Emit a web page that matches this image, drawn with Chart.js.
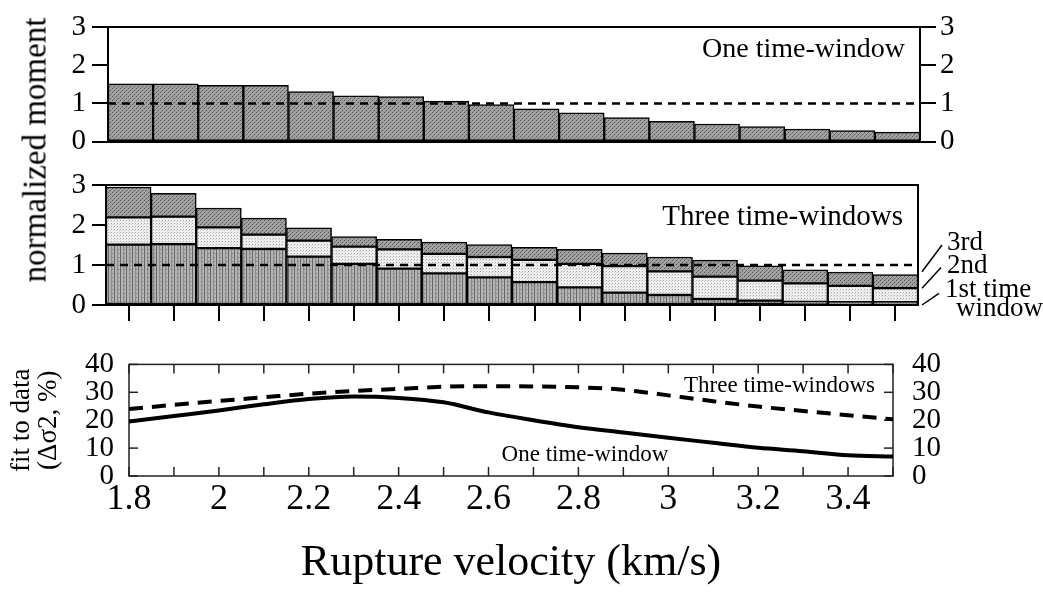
<!DOCTYPE html>
<html>
<head>
<meta charset="utf-8">
<script src="https://cdn.jsdelivr.net/npm/chart.js@4.4.1/dist/chart.umd.min.js"></script>
<style>
    body { margin: 0; background: #fff; }
    #page { position: relative; width: 1043px; height: 594px; overflow: hidden; font-family: "Liberation Serif", "Times New Roman", serif; }
    .panel { position: absolute; left: 0; width: 1043px; }
    #moment-title {
        position: absolute; left: 35px; top: 150px;
        transform: translate(-50%, -50%) rotate(-90deg);
        font-size: 33px; white-space: nowrap; color: #000;
    }
</style>
</head>
<body>
<div id="page">
    <div class="panel" style="top:0;height:165px"><canvas id="top-chart"></canvas></div>
    <div class="panel" style="top:160px;height:170px"><canvas id="middle-chart"></canvas></div>
    <div class="panel" style="top:328px;height:266px"><canvas id="bottom-chart"></canvas></div>
    <div id="moment-title">normalized moment</div>
</div>
<script>
// rupture velocity (km/s) for each inversion
const velocities = [1.8, 1.9, 2.0, 2.1, 2.2, 2.3, 2.4, 2.5, 2.6, 2.7, 2.8, 2.9, 3.0, 3.1, 3.2, 3.3, 3.4, 3.5];
const velocityTickLabels = ["1.8", "2", "2.2", "2.4", "2.6", "2.8", "3", "3.2", "3.4"];
const momentTicks = [0, 1, 2, 3];
const fitTicks = [0, 10, 20, 30, 40];

// normalized moment, one time-window
const oneWindowMoment = [1.51, 1.51, 1.47, 1.47, 1.31, 1.20, 1.18, 1.06, 0.97, 0.86, 0.75, 0.63, 0.53, 0.46, 0.39, 0.33, 0.29, 0.25];

// normalized moment, three time-windows (stacked)
const firstWindow = [1.51, 1.52, 1.42, 1.40, 1.21, 1.03, 0.91, 0.79, 0.69, 0.57, 0.44, 0.31, 0.25, 0.15, 0.11, 0.08, 0.07, 0.07];
const secondWindow = [0.68, 0.69, 0.52, 0.36, 0.40, 0.43, 0.48, 0.49, 0.51, 0.56, 0.59, 0.66, 0.59, 0.56, 0.50, 0.46, 0.41, 0.35];
const thirdWindow = [0.76, 0.58, 0.48, 0.41, 0.32, 0.25, 0.25, 0.29, 0.31, 0.31, 0.36, 0.33, 0.36, 0.41, 0.37, 0.34, 0.34, 0.34];

// fit to data (variance reduction, %)
const oneWindowFit = [19.5, 21.5, 23.5, 25.7, 27.6, 28.5, 28.0, 26.4, 22.8, 20.0, 17.5, 15.6, 13.7, 11.9, 10.1, 8.9, 7.4, 7.0];
const threeWindowFit = [24.0, 25.5, 26.9, 28.2, 29.5, 30.5, 31.2, 32.0, 32.2, 32.1, 31.8, 30.9, 28.9, 26.8, 24.9, 23.3, 21.8, 20.3];

const serif = "'Liberation Serif', 'Times New Roman', serif";
Chart.defaults.font.family = serif;
Chart.defaults.color = "#000";
Chart.defaults.animation = false;
Chart.defaults.plugins.legend.display = false;
Chart.defaults.plugins.tooltip.enabled = false;

function makePattern(w, h, base, marks) {
    const c = document.createElement("canvas");
    c.width = w;
    c.height = h;
    const g = c.getContext("2d");
    g.fillStyle = base;
    g.fillRect(0, 0, w, h);
    marks.forEach(([x, y, mw, mh, col]) => {
        g.fillStyle = col;
        g.fillRect(x, y, mw, mh);
    });
    return g.createPattern(c, "repeat");
}

const darkFill = makePattern(4, 4, "#a2a2a2", [[0, 0, 1, 1, "#555"], [2, 2, 1, 1, "#555"], [1, 3, 1, 1, "#7a7a7a"], [3, 1, 1, 1, "#8a8a8a"]]);
const stripeFill = makePattern(6, 4, "#b4b4b4", [[0, 0, 1, 4, "#666"], [3, 0, 1, 4, "#8a8a8a"], [4, 1, 1, 1, "#777"]]);
const lightFill = makePattern(3, 3, "#efefef", [[0, 0, 1, 1, "#a9a9a9"], [2, 1, 1, 1, "#cfcfcf"]]);

function dashedRef(ctx, x1, x2, y) {
    ctx.save();
    ctx.strokeStyle = "#000";
    ctx.lineWidth = 2.5;
    ctx.setLineDash([8, 6]);
    ctx.beginPath();
    ctx.moveTo(x1, y);
    ctx.lineTo(x2, y);
    ctx.stroke();
    ctx.restore();
}

function line(ctx, x1, y1, x2, y2) {
    ctx.beginPath();
    ctx.moveTo(x1, y1);
    ctx.lineTo(x2, y2);
    ctx.stroke();
}

const barStyle = { borderColor: "#000", borderWidth: 1.5, borderSkipped: false, barPercentage: 1, categoryPercentage: 1 };
const tickGrid = { drawOnChartArea: false, tickLength: 16, color: "#000", lineWidth: 2 };
const setTicks = list => scale => { scale.ticks = list.map(v => ({ value: v })); };
const valueTicks = (size, padding) => ({ font: { size }, padding, autoSkip: false });

// ---- top panel: one time-window ----
new Chart(document.getElementById("top-chart"), {
    type: "bar",
    data: {
        labels: velocities,
        datasets: [{ data: oneWindowMoment, backgroundColor: darkFill, ...barStyle }]
    },
    options: {
        responsive: true,
        maintainAspectRatio: false,
        layout: { padding: { top: 27, bottom: 0, left: 0, right: 0 } },
        scales: {
            x: {
                ticks: { display: false },
                grid: { display: false, drawTicks: false },
                border: { display: true, color: "#000", width: 2 },
                afterFit: s => { s.height = 17; }
            },
            y: {
                position: "left", min: 0, max: 3,
                afterBuildTicks: setTicks(momentTicks),
                ticks: valueTicks(29, 6),
                grid: tickGrid,
                border: { color: "#000", width: 2 },
                afterFit: s => { s.width = 108; }
            },
            y2: {
                position: "right", min: 0, max: 3,
                afterBuildTicks: setTicks(momentTicks),
                ticks: valueTicks(29, 4),
                grid: tickGrid,
                border: { color: "#000", width: 2 },
                afterFit: s => { s.width = 1043 - 920; }
            }
        }
    },
    plugins: [{
        id: "topDecor",
        afterDatasetsDraw(chart) {
            const { ctx, chartArea: a, scales: { y } } = chart;
            ctx.save();
            ctx.strokeStyle = "#000";
            ctx.lineWidth = 2;
            line(ctx, a.left - 16, y.getPixelForValue(3), a.right + 16, y.getPixelForValue(3));
            dashedRef(ctx, a.left, a.right, y.getPixelForValue(1));
            ctx.fillStyle = "#000";
            ctx.font = "28px " + serif;
            ctx.textAlign = "right";
            ctx.textBaseline = "middle";
            ctx.fillText("One time-window", a.right - 15, y.getPixelForValue(2.4));
            ctx.restore();
        }
    }]
});

// ---- middle panel: three time-windows ----
new Chart(document.getElementById("middle-chart"), {
    type: "bar",
    data: {
        labels: velocities,
        datasets: [
            { label: "1st time window", data: firstWindow, backgroundColor: stripeFill, ...barStyle },
            { label: "2nd", data: secondWindow, backgroundColor: lightFill, ...barStyle },
            { label: "3rd", data: thirdWindow, backgroundColor: darkFill, ...barStyle }
        ]
    },
    options: {
        responsive: true,
        maintainAspectRatio: false,
        layout: { padding: { top: 25, bottom: 0, left: 0, right: 1043 - 918 } },
        scales: {
            x: {
                stacked: true,
                ticks: { display: false },
                grid: { ...tickGrid, offset: false },
                border: { display: true, color: "#000", width: 2 },
                afterFit: s => { s.height = 25; }
            },
            y: {
                stacked: true, position: "left", min: 0, max: 3,
                afterBuildTicks: setTicks(momentTicks),
                ticks: valueTicks(29, 6),
                grid: { ...tickGrid, tickLength: 14 },
                border: { color: "#000", width: 2 },
                afterFit: s => { s.width = 106; }
            }
        }
    },
    plugins: [{
        id: "middleDecor",
        afterDatasetsDraw(chart) {
            const { ctx, chartArea: a, scales: { y } } = chart;
            ctx.save();
            ctx.strokeStyle = "#000";
            ctx.lineWidth = 2;
            line(ctx, a.left - 14, y.getPixelForValue(3), a.right + 1, y.getPixelForValue(3));
            line(ctx, a.right, y.getPixelForValue(3), a.right, y.getPixelForValue(0));
            dashedRef(ctx, a.left, a.right, y.getPixelForValue(1));

            // pointers to the window segments
            ctx.lineWidth = 1.5;
            line(ctx, a.right + 4, y.getPixelForValue(0.83), a.right + 24, y.getPixelForValue(1.5));
            line(ctx, a.right + 4, y.getPixelForValue(0.42), a.right + 23, y.getPixelForValue(0.94));
            line(ctx, a.right + 4, y.getPixelForValue(0.0), a.right + 21, y.getPixelForValue(0.29));

            ctx.fillStyle = "#000";
            ctx.textBaseline = "middle";
            ctx.textAlign = "left";
            ctx.font = "27px " + serif;
            ctx.fillText("3rd", a.right + 29, y.getPixelForValue(1.55));
            ctx.fillText("2nd", a.right + 29, y.getPixelForValue(0.97));
            ctx.fillText("1st time", a.right + 27, y.getPixelForValue(0.37));
            ctx.fillText("window", a.right + 38, y.getPixelForValue(-0.1));

            ctx.textAlign = "right";
            ctx.font = "29px " + serif;
            ctx.fillText("Three time-windows", a.right - 15, y.getPixelForValue(2.2));
            ctx.restore();
        }
    }]
});

// ---- bottom panel: fit to data ----
const velocityLabel = value => {
    const hit = velocityTickLabels.find(l => Math.abs(parseFloat(l) - value) < 1e-6);
    return hit === undefined ? "" : hit;
};

new Chart(document.getElementById("bottom-chart"), {
    type: "line",
    data: {
        datasets: [
            {
                label: "One time-window",
                data: velocities.map((v, i) => ({ x: v, y: oneWindowFit[i] })),
                borderColor: "#000", borderWidth: 4, pointRadius: 0,
                cubicInterpolationMode: "monotone"
            },
            {
                label: "Three time-windows",
                data: velocities.map((v, i) => ({ x: v, y: threeWindowFit[i] })),
                borderColor: "#000", borderWidth: 4, borderDash: [14, 9], pointRadius: 0,
                cubicInterpolationMode: "monotone"
            }
        ]
    },
    options: {
        responsive: true,
        maintainAspectRatio: false,
        layout: { padding: { top: 17, bottom: 0, left: 0, right: 0 } },
        scales: {
            x: {
                type: "linear", min: 1.8, max: 3.5,
                afterBuildTicks: setTicks(velocities),
                ticks: { font: { size: 36 }, padding: 2, autoSkip: false, maxRotation: 0, callback: velocityLabel },
                grid: { display: false, drawTicks: false },
                border: { display: false },
                title: { display: true, text: "Rupture velocity (km/s)", font: { size: 44 }, padding: { top: 0, bottom: 4 } },
                afterFit: s => { s.height = 118; }
            },
            y: {
                position: "left", min: 0, max: 40,
                afterBuildTicks: setTicks(fitTicks),
                ticks: valueTicks(29, 15),
                grid: { display: false, drawTicks: false },
                border: { display: false },
                title: { display: true, text: ["fit to data", "(\u0394\u03c32, %)"], font: { size: 27, lineHeight: 1 }, padding: { top: 8, bottom: 0 } },
                afterFit: s => { s.width = 129; }
            },
            y2: {
                position: "right", min: 0, max: 40,
                afterBuildTicks: setTicks(fitTicks),
                ticks: valueTicks(29, 19),
                grid: { display: false, drawTicks: false },
                border: { display: false },
                afterFit: s => { s.width = 1043 - 893; }
            }
        }
    },
    plugins: [{
        id: "bottomDecor",
        beforeDatasetsDraw(chart) {
            const { ctx, chartArea: a, scales: { x, y } } = chart;
            ctx.save();
            ctx.strokeStyle = "#222";
            ctx.lineWidth = 1.5;
            ctx.strokeRect(a.left, a.top, a.right - a.left, a.bottom - a.top);
            const len = 9;
            x.ticks.forEach(t => {
                const px = x.getPixelForValue(t.value);
                line(ctx, px, a.bottom, px, a.bottom - len);
                line(ctx, px, a.top, px, a.top + len);
            });
            y.ticks.forEach(t => {
                const py = y.getPixelForValue(t.value);
                line(ctx, a.left, py, a.left + len, py);
                line(ctx, a.right, py, a.right - len, py);
            });
            ctx.restore();
        },
        afterDatasetsDraw(chart) {
            const { ctx, chartArea: a, scales: { x, y } } = chart;
            ctx.save();
            ctx.fillStyle = "#000";
            ctx.font = "23px " + serif;
            ctx.textBaseline = "middle";
            ctx.textAlign = "right";
            ctx.fillText("Three time-windows", a.right - 18, y.getPixelForValue(32.2));
            ctx.fillText("One time-window", x.getPixelForValue(3.0), y.getPixelForValue(7.6));
            ctx.restore();
        }
    }]
});
</script>
</body>
</html>
